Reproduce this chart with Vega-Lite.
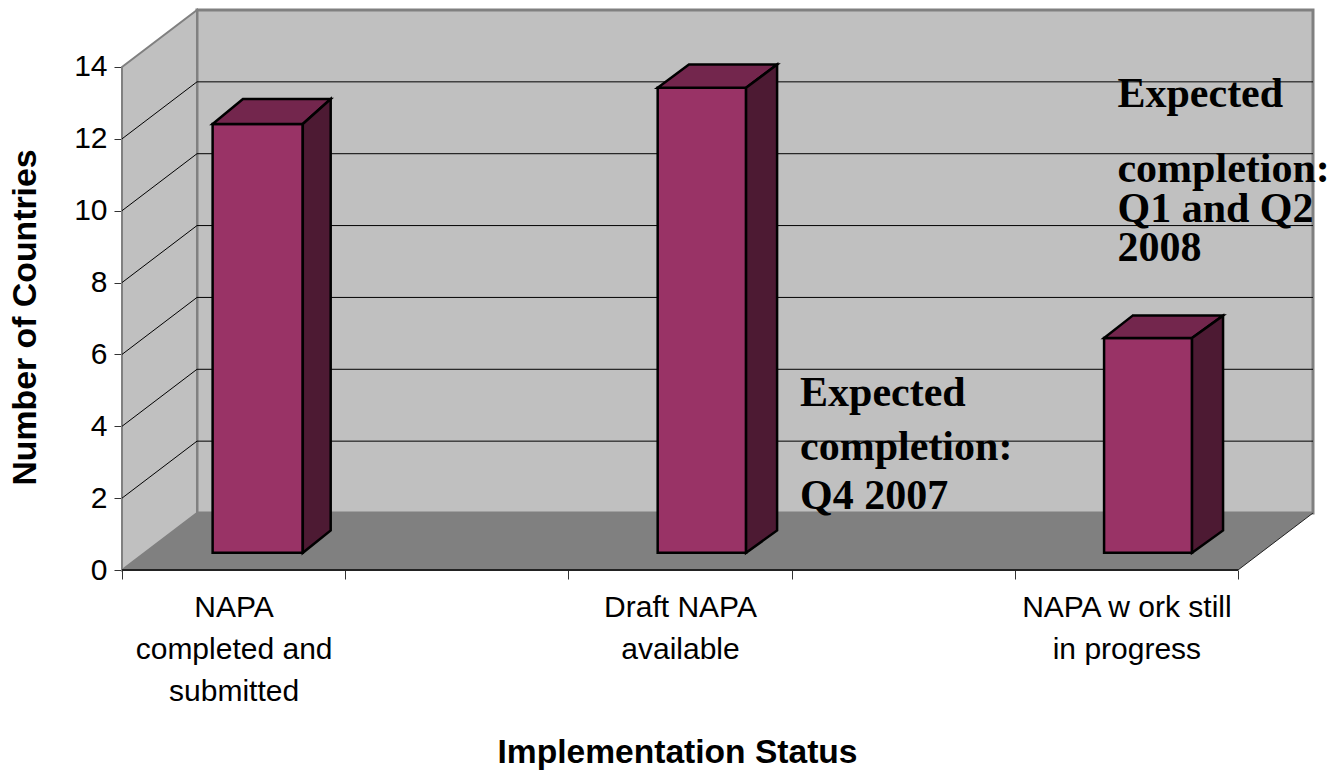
{"$schema":"https://vega.github.io/schema/vega-lite/v6.json","width":1191,"height":560,"autosize":"none","padding":{"left":122,"top":10,"right":22,"bottom":201},"background":"white","view":{"stroke":null},
"resolve":{"axis":{"x":"independent"}},
"datasets":{
"wall":[{"x":0.336,"x2":5.336,"y":1.586,"y2":15.586}],
"sidewall":[{"x":0,"y":14,"y2":0},{"x":0.336,"y":15.586,"y2":1.586}],
"floor":[{"y":0,"x":0,"x2":5},{"y":1.586,"x":0.336,"x2":5.336}],
"grid":[{"v":2,"xa":0,"xb":0.336,"xc":5.336,"ya":2,"yb":3.586},{"v":4,"xa":0,"xb":0.336,"xc":5.336,"ya":4,"yb":5.586},{"v":6,"xa":0,"xb":0.336,"xc":5.336,"ya":6,"yb":7.586},{"v":8,"xa":0,"xb":0.336,"xc":5.336,"ya":8,"yb":9.586},{"v":10,"xa":0,"xb":0.336,"xc":5.336,"ya":10,"yb":11.586},{"v":12,"xa":0,"xb":0.336,"xc":5.336,"ya":12,"yb":13.586}],
"bars":[{"status":"NAPA completed and submitted","value":12,"x":0.406,"x2":0.81,"base":0.479,"top":12.413},{"status":"Draft NAPA available","value":13,"x":2.4,"x2":2.796,"base":0.479,"top":13.42},{"status":"NAPA work still in progress","value":6,"x":4.4,"x2":4.794,"base":0.479,"top":6.457}],
"topface":[{"bar":"a","y":12.413,"x":0.406,"x2":0.81},{"bar":"a","y":13.11,"x":0.542,"x2":0.935},{"bar":"b","y":13.42,"x":2.4,"x2":2.796},{"bar":"b","y":14.07,"x":2.54,"x2":2.935},{"bar":"c","y":6.457,"x":4.4,"x2":4.794},{"bar":"c","y":7.08,"x":4.528,"x2":4.933}],
"sideface":[{"bar":"a","x":0.81,"y":12.413,"y2":0.479},{"bar":"a","x":0.935,"y":13.11,"y2":1.1},{"bar":"b","x":2.796,"y":13.42,"y2":0.479},{"bar":"b","x":2.935,"y":14.07,"y2":1.1},{"bar":"c","x":4.794,"y":6.457,"y2":0.479},{"bar":"c","x":4.933,"y":7.08,"y2":1.1}],
"notes":[{"t":"Expected","x":3.038,"y":4.93},{"t":"completion:","x":3.038,"y":3.42},{"t":"Q4 2007","x":3.038,"y":2.07},{"t":"Expected","x":4.46,"y":13.25},{"t":"completion:","x":4.46,"y":11.15},{"t":"Q1 and Q2","x":4.46,"y":10.05},{"t":"2008","x":4.46,"y":8.96}]
},
"layer":[
{"data":{"name":"wall"},"mark":{"type":"rect","fill":"#C0C0C0","stroke":"#808080","strokeWidth":3},"encoding":{"x":{"field":"x","type":"quantitative","scale":{"domain":[0,5.336],"nice":false,"zero":false},"axis":{"values":[0,1,2,3,4,5],"labels":false,"title":null,"domain":false,"grid":false,"tickColor":"#333333","tickSize":9,"tickWidth":1}},"x2":{"field":"x2"},"y":{"field":"y","type":"quantitative","scale":{"domain":[0,15.586],"nice":false,"zero":false},"axis":{"values":[0,2,4,6,8,10,12,14],"title":"Number of Countries","titleFont":"Liberation Sans","titleFontSize":33.8,"titleFontWeight":"bold","titleColor":"black","titleBaseline":"middle","titleX":-97,"titleY":307,"labelFont":"Liberation Sans","labelFontSize":30,"labelColor":"black","labelPadding":7,"domain":false,"grid":false,"tickColor":"#333333","tickSize":8}},"y2":{"field":"y2"}}},
{"data":{"name":"sidewall"},"mark":{"type":"area","fill":"#C0C0C0","stroke":"#808080","strokeWidth":2},"encoding":{"x":{"field":"x","type":"quantitative","axis":null},"y":{"field":"y","type":"quantitative"},"y2":{"field":"y2"}}},
{"data":{"name":"floor"},"mark":{"type":"area","orient":"horizontal","fill":"#808080"},"encoding":{"y":{"field":"y","type":"quantitative"},"x":{"field":"x","type":"quantitative","axis":null},"x2":{"field":"x2"}}},
{"data":{"name":"grid"},"mark":{"type":"rule","color":"black","strokeWidth":1},"encoding":{"x":{"field":"xb","type":"quantitative","axis":null},"x2":{"field":"xc"},"y":{"field":"yb","type":"quantitative"}}},
{"data":{"name":"grid"},"mark":{"type":"rule","color":"black","strokeWidth":1},"encoding":{"x":{"field":"xa","type":"quantitative","axis":null},"x2":{"field":"xb"},"y":{"field":"ya","type":"quantitative"},"y2":{"field":"yb"}}},
{"data":{"values":[{"a":0,"b":5,"y":0}]},"mark":{"type":"rule","color":"#222222","strokeWidth":2},"encoding":{"x":{"field":"a","type":"quantitative","axis":{"orient":"bottom","values":[0.5,2.5,4.5],"labelExpr":"datum.value==0.5?['NAPA','completed and','submitted']:datum.value==2.5?['Draft NAPA','available']:['NAPA w ork still','in progress']","labelFont":"Liberation Sans","labelFontSize":30,"labelColor":"black","labelLineHeight":42,"labelPadding":22,"labelBaseline":"top","labelOverlap":false,"labelLimit":500,"ticks":false,"domain":false,"grid":false,"title":"Implementation Status","titleFont":"Liberation Sans","titleFontSize":33.6,"titleFontWeight":"bold","titleColor":"black","titleBaseline":"middle","titleX":555,"titleY":182}},"x2":{"field":"b"},"y":{"field":"y","type":"quantitative"}}},
{"data":{"values":[{"a":5,"b":5.336,"c":0,"d":1.586}]},"mark":{"type":"rule","color":"#222222","strokeWidth":1},"encoding":{"x":{"field":"a","type":"quantitative","axis":null},"x2":{"field":"b"},"y":{"field":"c","type":"quantitative"},"y2":{"field":"d"}}},
{"data":{"name":"bars"},"mark":{"type":"rect","fill":"#993366","stroke":"black","strokeWidth":2.5},"encoding":{"x":{"field":"x","type":"quantitative","axis":null},"x2":{"field":"x2"},"y":{"field":"base","type":"quantitative"},"y2":{"field":"top"}}},
{"data":{"name":"topface"},"mark":{"type":"area","orient":"horizontal","fill":"#73264D","stroke":"black","strokeWidth":2.5},"encoding":{"detail":{"field":"bar"},"y":{"field":"y","type":"quantitative"},"x":{"field":"x","type":"quantitative","axis":null},"x2":{"field":"x2"}}},
{"data":{"name":"sideface"},"mark":{"type":"area","fill":"#4D1A33","stroke":"black","strokeWidth":2.5},"encoding":{"detail":{"field":"bar"},"x":{"field":"x","type":"quantitative","axis":null},"y":{"field":"y","type":"quantitative"},"y2":{"field":"y2"}}},
{"data":{"name":"notes"},"mark":{"type":"text","font":"Liberation Serif","fontWeight":"bold","fontSize":42,"align":"left","baseline":"middle","color":"black"},"encoding":{"x":{"field":"x","type":"quantitative","axis":null},"y":{"field":"y","type":"quantitative"},"text":{"field":"t"}}}
]}
